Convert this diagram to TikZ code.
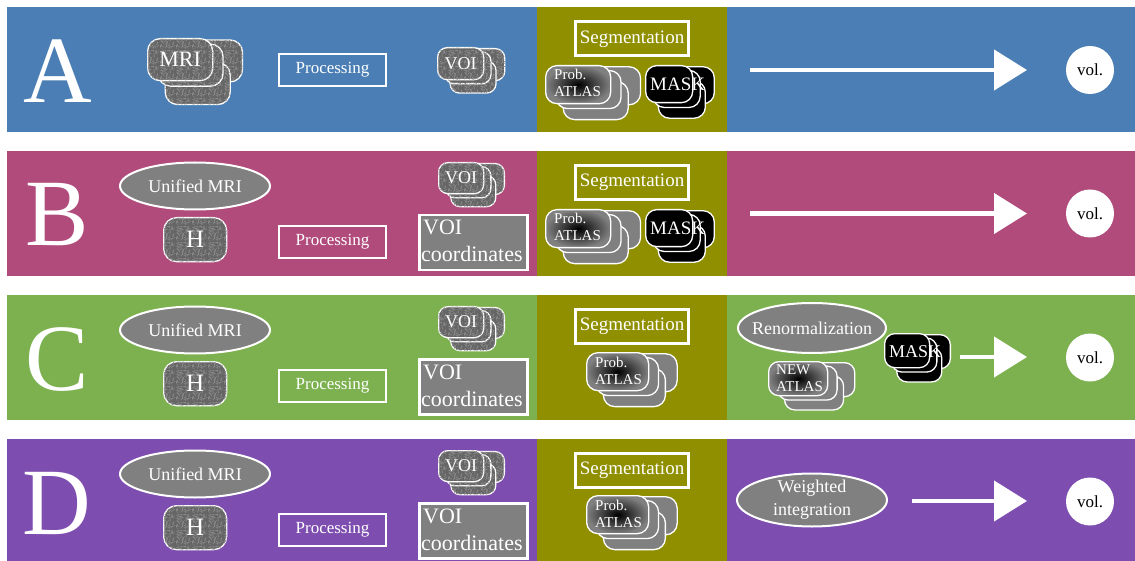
\documentclass[tikz,border=0pt]{standalone}
\usepackage{fontspec}
\setmainfont{Liberation Serif}
\usetikzlibrary{shapes.geometric,arrows.meta,patterns}
\definecolor{bandA}{HTML}{4A7EB4}
\definecolor{bandB}{HTML}{B04B7B}
\definecolor{bandC}{HTML}{7DB150}
\definecolor{bandD}{HTML}{7D4DAF}
\definecolor{segolive}{HTML}{8F8F00}
\definecolor{grainfill}{HTML}{656565}
\definecolor{grainlight}{HTML}{8C8C8C}
\definecolor{flatgray}{HTML}{808080}
\newcommand\fsz[2]{\fontsize{#1pt}{#2pt}\selectfont}
\pgfdeclarepatternformonly{grainy}{\pgfpoint{0pt}{0pt}}{\pgfpoint{16pt}{16pt}}{\pgfpoint{16pt}{16pt}}{%
  \pgfmathsetseed{7}%
  \foreach \gi in {1,...,110}{%
    \pgfmathsetmacro\gx{rnd*15.2}%
    \pgfmathsetmacro\gy{rnd*15.2}%
    \pgfpathrectangle{\pgfpoint{\gx pt}{\gy pt}}{\pgfpoint{0.8pt}{0.8pt}}%
  }%
  \pgfusepath{fill}%
}
\newcommand\cardstack[8]{%
  \pgfmathsetmacro\crad{0.3*#5}%
  \node[#6, minimum width=#4pt, minimum height=#5pt, rounded corners=\crad pt] (#1-back) at ({#2+0.46*#4},{#3+0.03*#5}) {};
  \node[#6, minimum width=#4pt, minimum height=#5pt, rounded corners=\crad pt] (#1-low) at ({#2+0.27*#4},{#3+#8*#5}) {};
  \node[#6, minimum width=#4pt, minimum height=#5pt, rounded corners=\crad pt] (#1-mid) at ({#2+0.16*#4},{#3+0.13*#5}) {};
  \node[#7, minimum width=#4pt, minimum height=#5pt, rounded corners=\crad pt] (#1) at (#2,#3) {};
}
\newcommand\atlaslabel[5]{%
  \node[txt, anchor=base west, font=\fsz{15}{15}] (#1-l1) at ({#2+9},{#3+15}) {#4};
  \node[txt, anchor=base west, font=\fsz{15}{15}] (#1-l2) at ({#2+9},{#3+32}) {#5};
}
\tikzset{
  card/.style={draw=white, line width=1.3pt, inner sep=0pt, anchor=north west},
  grain/.style={card, fill=grainfill, postaction={pattern=grainy, pattern color=grainlight}},
  flat/.style={card, fill=flatgray},
  atlasfront/.style={card, inner color=black, outer color=flatgray},
  blackcard/.style={card, fill=black},
  txt/.style={text=white, inner sep=0pt},
  procbox/.style={draw=white, line width=2.5pt, minimum width=107pt, minimum height=32pt, inner sep=0pt, text=white, font=\fsz{17}{20}},
  segbox/.style={draw=white, line width=3pt, minimum width=113pt, minimum height=34pt, inner sep=0pt, text=white, font=\fsz{19}{22}},
  grayell/.style={ellipse, draw=white, line width=2pt, fill=flatgray, inner sep=0pt},
  elltext/.style={text=white, inner sep=0pt, font=\fsz{18}{23}, align=center},
  coordbox/.style={draw=white, line width=2.5pt, fill=flatgray, minimum width=108pt, minimum height=55pt, inner sep=0pt, anchor=north west},
  volnode/.style={circle, fill=white, minimum size=48pt, inner sep=0pt, font=\fsz{17}{20}},
  bigarrow/.style={draw=white, line width=4.5pt, -{Triangle[length=33pt,width=40pt]}},
  bigletter/.style={text=white, font=\fsz{95}{95}, inner sep=0pt, anchor=base},
}
\begin{document}
\begin{tikzpicture}[x=1pt,y=-1pt]
\useasboundingbox (0,0) rectangle (1135,561);
% bands
\fill[bandA] (7,7) rectangle (1135,132);
\fill[bandB] (7,151) rectangle (1135,276);
\fill[bandC] (7,295) rectangle (1135,420);
\fill[bandD] (7,439) rectangle (1135,561);
\fill[segolive] (537,7) rectangle (727,132);
\fill[segolive] (537,151) rectangle (727,276);
\fill[segolive] (537,295) rectangle (727,420);
\fill[segolive] (537,439) rectangle (727,561);

% ---------- band A
\node[bigletter] (letterA) at (58,103) {A};
\cardstack{mri}{147}{38}{65}{42}{grain}{grain}{0.57}
\node[txt, font=\fsz{22}{22}] (mrilabel) at (mri.center) {MRI};
\node[procbox] (procA) at (332.5,70) {Processing};
\cardstack{voiA}{437}{47}{46}{32}{grain}{grain}{0.42}
\node[txt, font=\fsz{18}{18}] (voilabelA) at (voiA.center) {VOI};
\node[segbox] (segA) at (632,39) {Segmentation};
\cardstack{atlasA}{545}{65}{65}{38}{flat}{atlasfront}{0.42}
\atlaslabel{atlasA}{545}{65}{Prob.}{ATLAS}
\cardstack{maskA}{645}{65}{47}{37}{blackcard}{blackcard}{0.42}
\node[txt, anchor=base west, font=\fsz{19}{19}] (masklabelA) at (650,91) {MASK};
\coordinate (arrAs) at (750,70);
\coordinate (arrAe) at (1027,70);
\draw[bigarrow] (arrAs) -- (arrAe);
\node[volnode] (volA) at (1090,70) {vol.};

% ---------- shared parts of bands B, C, D
\foreach \tp/\bn in {151/B,295/C,439/D}{
  \node[bigletter] (letter\bn) at ({57},{\tp+95}) {\bn};
  \node[grayell, minimum width=150pt, minimum height=47pt] (unified\bn) at ({195},{\tp+35}) {};
  \node[elltext] (unifiedl\bn) at (unified\bn.center) {Unified MRI};
  \node[grain, minimum width=63pt, minimum height=44pt, rounded corners=13pt, text=white, font=\fsz{25}{25}] (h\bn) at ({163},{\tp+66}) {H};
  \cardstack{voi\bn}{438}{\tp+11}{45}{31}{grain}{grain}{0.42}
  \node[txt, font=\fsz{18}{18}] (voilabel\bn) at (voi\bn.center) {VOI};
  \node[procbox] (proc\bn) at ({332.5},{\tp+91}) {Processing};
  \node[coordbox] (coord\bn) at ({418},{\tp+63}) {};
  \node[txt, anchor=base west, font=\fsz{22}{22}] (coordl1\bn) at ({423},{\tp+84}) {VOI};
  \node[txt, anchor=base west, font=\fsz{22}{22}] (coordl2\bn) at ({421},{\tp+111}) {coordinates};
  \node[segbox] (seg\bn) at ({632},{\tp+31.5}) {Segmentation};
  \node[volnode] (vol\bn) at ({1090},{\tp+62.5}) {vol.};
}

% ---------- band B
\cardstack{atlasB}{545}{209}{65}{38}{flat}{atlasfront}{0.42}
\atlaslabel{atlasB}{545}{209}{Prob.}{ATLAS}
\cardstack{maskB}{645}{209}{47}{37}{blackcard}{blackcard}{0.42}
\node[txt, anchor=base west, font=\fsz{19}{19}] (masklabelB) at (650,235) {MASK};
\coordinate (arrBs) at (750,213.5);
\coordinate (arrBe) at (1027,213.5);
\draw[bigarrow] (arrBs) -- (arrBe);

% ---------- band C
\cardstack{atlasC}{586}{352}{62}{38}{flat}{atlasfront}{0.42}
\atlaslabel{atlasC}{586}{352}{Prob.}{ATLAS}
\node[grayell, minimum width=148pt, minimum height=50pt] (renorm) at (812,328) {};
\node[elltext] (renorml) at (renorm.center) {Renormalization};
\cardstack{newatlas}{768}{361}{59}{34}{flat}{atlasfront}{0.42}
\atlaslabel{newatlas}{767}{359}{NEW}{ATLAS}
\cardstack{maskC}{884}{333}{45}{34}{blackcard}{blackcard}{0.42}
\node[txt, anchor=base west, font=\fsz{18}{18}] (masklabelC) at (889,357) {MASK};
\coordinate (arrCs) at (960,357);
\coordinate (arrCe) at (1027,357);
\draw[bigarrow] (arrCs) -- (arrCe);

% ---------- band D
\cardstack{atlasD}{586}{495}{62}{38}{flat}{atlasfront}{0.42}
\atlaslabel{atlasD}{586}{495}{Prob.}{ATLAS}
\node[grayell, minimum width=150pt, minimum height=53pt] (weighted) at (812,500) {};
\node[elltext] (weightedl) at (weighted.center) {Weighted\\integration};
\coordinate (arrDs) at (912,501);
\coordinate (arrDe) at (1027,501);
\draw[bigarrow] (arrDs) -- (arrDe);
\end{tikzpicture}
\end{document}
